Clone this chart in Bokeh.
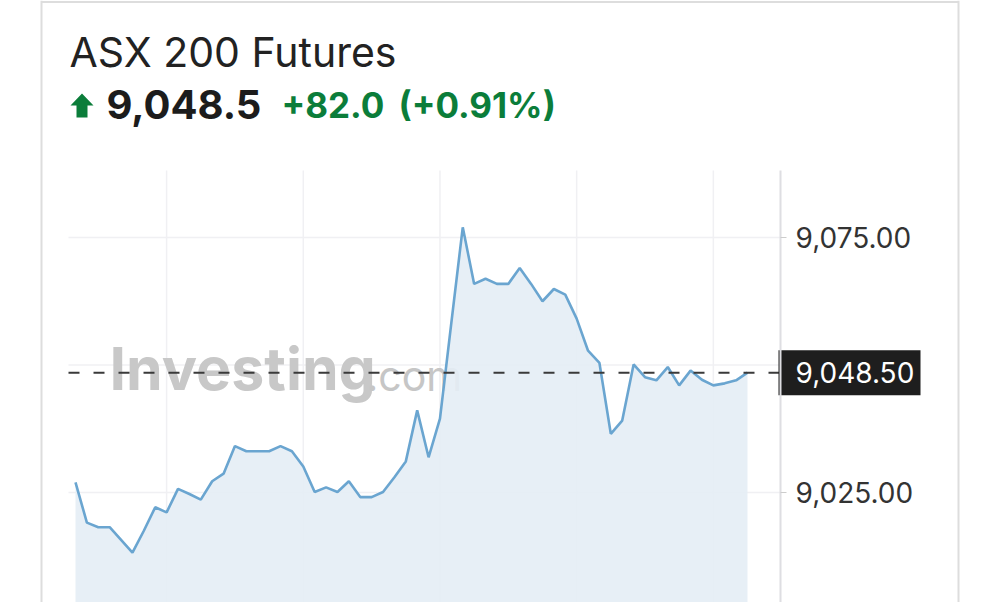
from bokeh.plotting import figure
from bokeh.models import Range1d, LinearAxis, FixedTicker, NumeralTickFormatter
from bokeh.core.properties import value
from bokeh.embed import file_html
from bokeh.resources import INLINE

# ---------------- data ----------------
title_text = "ASX 200 Futures"
last_text = "9,048.5"
change_text = "+82.0"
change_pct_text = "(+0.91%)"
watermark_main = "Investing"
watermark_tail = ".com"

prices = [9027.0, 9019.1, 9018.2, 9018.2, 9015.7, 9013.2, 9017.5, 9022.1, 9021.1, 9025.7,
          9024.7, 9023.6, 9027.2, 9028.7, 9034.1, 9033.1, 9033.1, 9033.1, 9034.1, 9033.1,
          9030.1, 9025.1, 9026.0, 9025.1, 9027.2, 9024.1, 9024.1, 9025.1, 9028.0, 9031.1,
          9041.1, 9031.9, 9039.5, 9058.3, 9077.0, 9065.9, 9066.9, 9065.9, 9065.9, 9069.0,
          9065.9, 9062.5, 9064.9, 9063.8, 9059.1, 9052.8, 9050.4, 9036.5, 9039.1, 9050.1,
          9047.6, 9047.0, 9049.6, 9046.0, 9048.9, 9047.1, 9046.0, 9046.4, 9047.0, 9048.5]
steps = list(range(len(prices)))
x_grid_steps = [8, 20, 32, 44, 56]
y_grid_values = [9025, 9050, 9075]
y_tick_values = [9025, 9075]

# ---------------- layout (pixel coordinates) ----------------
W, H = 992, 602
X_FIRST, X_LAST = 75, 747          # pixel of first / last sample
Y_HI, Y_LO = 237, 492              # pixel of 9075 / 9025
CH_LEFT, CH_RIGHT, CH_TOP = 68, 780, 170

step_px = (X_LAST - X_FIRST) / (len(prices) - 1)
t_start = (0 - X_FIRST) / step_px
t_end = (W - X_FIRST) / step_px
ppu = (Y_LO - Y_HI) / (9075 - 9025)
price_top = 9075 + (Y_HI - 0) / ppu
price_bottom = 9075 - (H - Y_HI) / ppu
price_chart_top = 9075 + (Y_HI - CH_TOP) / ppu

p = figure(width=W, height=H, output_backend="svg", toolbar_location=None,
           x_range=Range1d(0, W), y_range=Range1d(H, 0),
           x_axis_location=None, y_axis_location=None, min_border=0)
p.extra_x_ranges = {"t": Range1d(t_start, t_end)}
p.extra_y_ranges = {"price": Range1d(price_bottom, price_top)}
p.grid.visible = False
p.outline_line_color = None
p.background_fill_color = "white"
p.border_fill_color = "white"

# card border
p.segment(x0=[41, 958, 41], x1=[41, 958, 958], y0=[0, 0, 1.5], y1=[H, H, 1.5],
          line_color="#dddddd", line_width=2)

# grid lines
p.segment(x0=x_grid_steps, x1=x_grid_steps, y0=CH_TOP, y1=H, x_range_name="t",
          line_color="#f0f0f3", line_width=1.5)
p.segment(x0=CH_LEFT, x1=CH_RIGHT, y0=y_grid_values, y1=y_grid_values, y_range_name="price",
          line_color="#f0f0f3", line_width=1.5)

# watermark
p.text(x=[109], y=[368], text=[watermark_main], text_font=value("Inter"), text_font_style="bold",
       text_font_size="59px", text_color="#c8c8c8", text_baseline="middle")
p.text(x=[366], y=[375], text=[watermark_tail], text_font=value("Inter"),
       text_font_size="41px", text_color="#c6c6c6", text_baseline="middle")

# area + line
p.varea(x=steps, y1=price_bottom, y2=prices, x_range_name="t", y_range_name="price",
        fill_color="#e4edf5", fill_alpha=0.9)
p.line(x=steps, y=prices, x_range_name="t", y_range_name="price",
       line_color="#6aa5d0", line_width=2.6)

# last price dashed line + box
last = prices[-1]
p.segment(x0=[CH_LEFT], x1=[CH_RIGHT], y0=[last], y1=[last], y_range_name="price",
          line_color="#3a3a3a", line_width=2, line_dash="11 14")
p.rect(x=[849], y=[last], width=142, height=45, height_units="screen", y_range_name="price",
       fill_color="#1e1e1e", line_color=None)
p.text(x=[795], y=[last], text=[f"{last:,.2f}"], y_range_name="price",
       text_font=value("Inter"), text_font_size="28px", text_color="white",
       text_baseline="middle")

# right price axis
ax = LinearAxis(y_range_name="price", fixed_location=CH_RIGHT,
                ticker=FixedTicker(ticks=y_tick_values),
                formatter=NumeralTickFormatter(format="0,0.00"),
                bounds=(price_bottom, price_chart_top))
ax.axis_line_color = "#dedee2"
ax.axis_line_width = 2
ax.major_tick_in = 0
ax.major_tick_out = 6
ax.major_tick_line_color = "#cccccc"
ax.minor_tick_line_color = None
ax.major_label_standoff = 9
ax.major_label_text_font = "Inter"
ax.major_label_text_font_size = "28px"
ax.major_label_text_color = "#333333"
p.add_layout(ax, "right")

# header
p.text(x=[69], y=[51], text=[title_text], text_font=value("Inter"), text_font_size="41px",
       text_color="#222222", text_baseline="middle")
p.patch(x=[70, 81.5, 93, 87, 87, 76, 76], y=[105, 93, 105, 105, 117, 117, 105],
        fill_color="#0b7d3a", line_color=None)
p.text(x=[106], y=[104], text=[last_text], text_font=value("Inter"), text_font_style="bold",
       text_font_size="40px", text_color="#1c1c1c", text_baseline="middle")
p.text(x=[281], y=[104], text=[change_text], text_font=value("Inter"), text_font_style="bold",
       text_font_size="35px", text_color="#0b7d3a", text_baseline="middle")
p.text(x=[398], y=[104], text=[change_pct_text], text_font=value("Inter"), text_font_style="bold",
       text_font_size="35px", text_color="#0b7d3a", text_baseline="middle")

open("out.html", "w").write(file_html(p, INLINE))
